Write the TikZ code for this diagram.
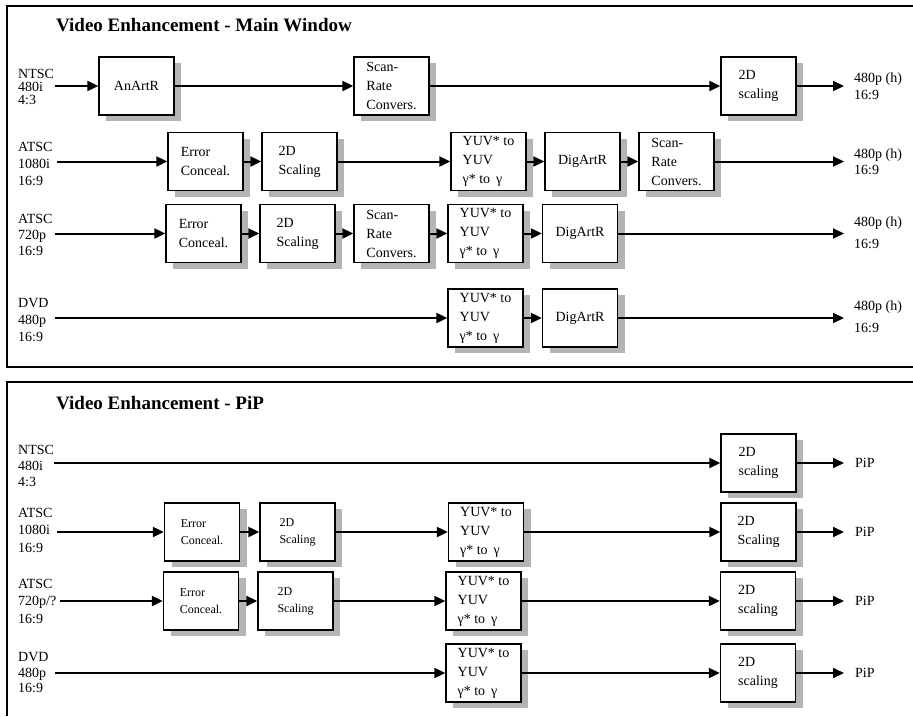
\documentclass[tikz,border=0pt]{standalone}
\usepackage{fontspec}
\setmainfont{Liberation Serif}
\usetikzlibrary{arrows.meta,shadows}
\definecolor{shd}{RGB}{180,180,180}
\begin{document}
\begin{tikzpicture}[x=1pt,y=-1pt,
  blk/.style={draw,line width=1.3pt,fill=white,minimum width=75pt,minimum height=58pt,inner sep=0pt,align=left,
    font=\fontsize{14}{19}\selectfont,
    drop shadow={shadow xshift=7pt,shadow yshift=-6pt,fill=shd,opacity=1,draw=none}},
  sblk/.style={blk,font=\fontsize{12}{17}\selectfont},
  flow/.style={line width=2pt,-{Triangle[length=11pt,width=10pt]}},
  inlab/.style={anchor=west,align=left,inner sep=0pt},
  outlab/.style={anchor=west,align=left,inner sep=0pt},
  ttl/.style={anchor=west,inner sep=0pt,font=\fontsize{19}{23}\selectfont\bfseries},
  panel/.style={line width=2.2pt}
]
\useasboundingbox (0,0) rectangle (913,716);

% ================= Main Window panel =================
\draw[panel] (913,6) -- (7,6) -- (7,367) -- (913,367);
\node[ttl] (t1) at (56,25) {Video Enhancement - Main Window};

% Row 1
\node[inlab,font=\fontsize{14}{13}\selectfont] (l11) at (18,87) {NTSC\\480i\\4:3};
\coordinate (i11) at (55,86);
\node[blk] (a11) at (136.5,86) {AnArtR};
\node[blk] (c11) at (391.5,86) {Scan-\\Rate\\Convers.};
\node[blk] (d11) at (758.5,86) {2D\\scaling};
\coordinate (o11) at (844,86);
\node[outlab,font=\fontsize{14}{16.5}\selectfont] (r11) at (854,86) {480p (h)\\16:9};
\draw[flow] (i11) -- (a11);
\draw[flow] (a11) -- (c11);
\draw[flow] (c11) -- (d11);
\draw[flow] (d11) -- (o11);

% Row 2
\node[inlab,font=\fontsize{14}{17}\selectfont] (l12) at (18,164) {ATSC\\1080i\\16:9};
\coordinate (i12) at (57,161.5);
\node[blk] (e12) at (205.5,161.5) {Error\\Conceal.};
\node[blk] (s12) at (299.5,161.5) {2D\\Scaling};
\node[blk] (y12) at (488.5,161.5) {YUV* to\\YUV\\γ* to\hspace{6pt}γ};
\node[blk] (g12) at (582.5,161.5) {DigArtR};
\node[blk] (c12) at (676.5,161.5) {Scan-\\Rate\\Convers.};
\coordinate (o12) at (844,161.5);
\node[outlab,font=\fontsize{14}{16}\selectfont] (r12) at (854,161.5) {480p (h)\\16:9};
\draw[flow] (i12) -- (e12);
\draw[flow] (e12) -- (s12);
\draw[flow] (s12) -- (y12);
\draw[flow] (y12) -- (g12);
\draw[flow] (g12) -- (c12);
\draw[flow] (c12) -- (o12);

% Row 3
\node[inlab,font=\fontsize{14}{16}\selectfont] (l13) at (18,235) {ATSC\\720p\\16:9};
\coordinate (i13) at (55,233.5);
\node[blk] (e13) at (203.5,233.5) {Error\\Conceal.};
\node[blk] (s13) at (297.5,233.5) {2D\\Scaling};
\node[blk] (c13) at (391.5,233.5) {Scan-\\Rate\\Convers.};
\node[blk] (y13) at (485.5,233.5) {YUV* to\\YUV\\γ* to\hspace{6pt}γ};
\node[blk] (g13) at (580,233.5) {DigArtR};
\coordinate (o13) at (844,233.5);
\node[outlab,font=\fontsize{14}{22}\selectfont] (r13) at (854,232.5) {480p (h)\\16:9};
\draw[flow] (i13) -- (e13);
\draw[flow] (e13) -- (s13);
\draw[flow] (s13) -- (c13);
\draw[flow] (c13) -- (y13);
\draw[flow] (y13) -- (g13);
\draw[flow] (g13) -- (o13);

% Row 4
\node[inlab,font=\fontsize{14}{17}\selectfont] (l14) at (18,320) {DVD\\480p\\16:9};
\coordinate (i14) at (55,318);
\node[blk] (y14) at (485.5,318) {YUV* to\\YUV\\γ* to\hspace{6pt}γ};
\node[blk] (g14) at (580,318) {DigArtR};
\coordinate (o14) at (844,318);
\node[outlab,font=\fontsize{14}{22}\selectfont] (r14) at (854,317) {480p (h)\\16:9};
\draw[flow] (i14) -- (y14);
\draw[flow] (y14) -- (g14);
\draw[flow] (g14) -- (o14);

% ================= PiP panel =================
\draw[panel] (913,382) -- (7,382) -- (7,716);
\node[ttl] (t2) at (56,403) {Video Enhancement - PiP};

% Row 1
\node[inlab,font=\fontsize{14}{16}\selectfont] (l21) at (18,466) {NTSC\\480i\\4:3};
\coordinate (i21) at (54,463);
\node[blk] (d21) at (758.5,463) {2D\\scaling};
\coordinate (o21) at (844,463);
\node[outlab,font=\fontsize{14}{17}\selectfont] (r21) at (855,463) {PiP};
\draw[flow] (i21) -- (d21);
\draw[flow] (d21) -- (o21);

% Row 2
\node[inlab,font=\fontsize{14}{17.5}\selectfont] (l22) at (18,530) {ATSC\\1080i\\16:9};
\coordinate (i22) at (57,532);
\node[sblk] (e22) at (202,532) {Error\\Conceal.};
\node[sblk] (s22) at (297.5,532) {2D\\Scaling};
\node[blk] (y22) at (486,532) {YUV* to\\YUV\\γ* to\hspace{6pt}γ};
\node[blk] (d22) at (758.5,532) {2D\\Scaling};
\coordinate (o22) at (844,532);
\node[outlab,font=\fontsize{14}{17}\selectfont] (r22) at (855,532) {PiP};
\draw[flow] (i22) -- (e22);
\draw[flow] (e22) -- (s22);
\draw[flow] (s22) -- (y22);
\draw[flow] (y22) -- (d22);
\draw[flow] (d22) -- (o22);

% Row 3
\node[inlab,font=\fontsize{14}{17.5}\selectfont] (l23) at (18,601) {ATSC\\720p/?\\16:9};
\coordinate (i23) at (60,601);
\node[sblk] (e23) at (201,601) {Error\\Conceal.};
\node[sblk] (s23) at (295.5,601) {2D\\Scaling};
\node[blk] (y23) at (483.5,601) {YUV* to\\YUV\\γ* to\hspace{6pt}γ};
\node[blk] (d23) at (758,601) {2D\\scaling};
\coordinate (o23) at (844,601);
\node[outlab,font=\fontsize{14}{17}\selectfont] (r23) at (855,601) {PiP};
\draw[flow] (i23) -- (e23);
\draw[flow] (e23) -- (s23);
\draw[flow] (s23) -- (y23);
\draw[flow] (y23) -- (d23);
\draw[flow] (d23) -- (o23);

% Row 4
\node[inlab,font=\fontsize{14}{15.5}\selectfont] (l24) at (18,673) {DVD\\480p\\16:9};
\coordinate (i24) at (55,673);
\node[blk] (y24) at (483.5,673) {YUV* to\\YUV\\γ* to\hspace{6pt}γ};
\node[blk] (d24) at (758,673) {2D\\scaling};
\coordinate (o24) at (844,673);
\node[outlab,font=\fontsize{14}{17}\selectfont] (r24) at (855,673) {PiP};
\draw[flow] (i24) -- (y24);
\draw[flow] (y24) -- (d24);
\draw[flow] (d24) -- (o24);
\end{tikzpicture}
\end{document}
